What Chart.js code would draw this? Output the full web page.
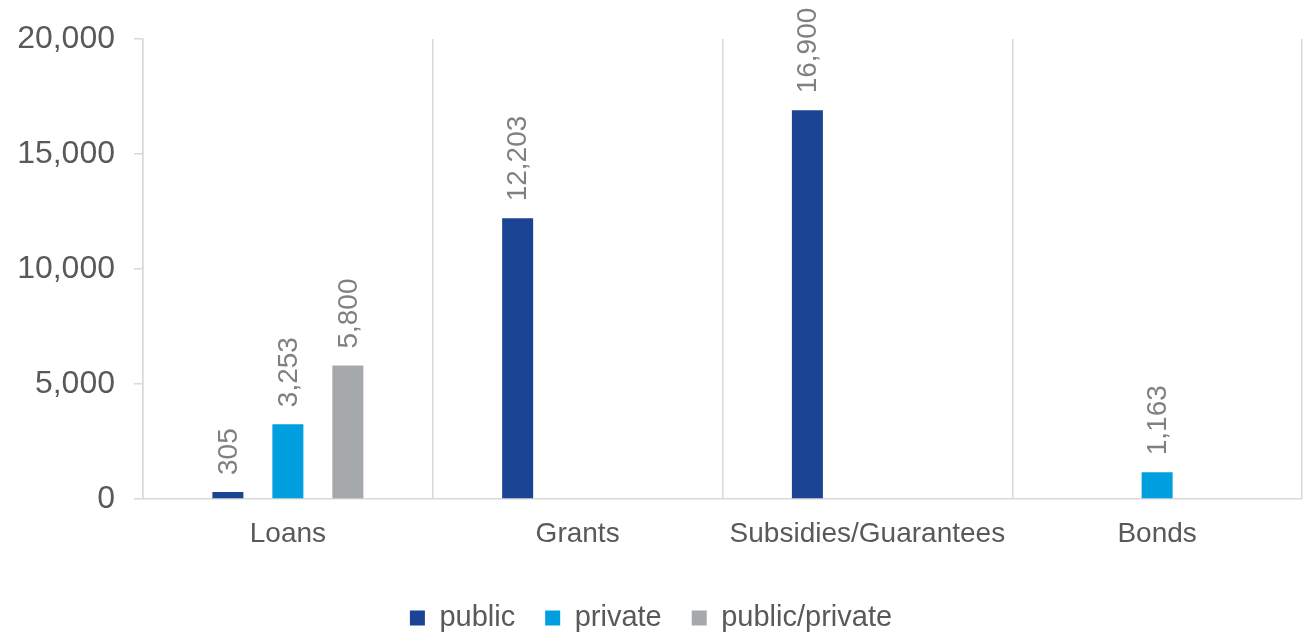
<!DOCTYPE html>
<html lang="en">
<head>
<meta charset="utf-8">
<title>Financing by instrument</title>
<script src="https://cdn.jsdelivr.net/npm/chart.js@4.4.1/dist/chart.umd.min.js"></script>
<style>
  html, body { margin: 0; padding: 0; background: #fff; }
  #wrap { width: 1316px; height: 635px; }
</style>
</head>
<body>
<div id="wrap"><canvas id="myChart" width="1316" height="635"></canvas></div>
<script>
// data
var categories = ['Loans', 'Grants', 'Subsidies/Guarantees', 'Bonds'];
var publicVals = [305, 12203, 16900, null];
var privateVals = [3253, null, null, 1163];
var mixedVals = [5800, null, null, null];
var yTicks = [0, 5000, 10000, 15000, 20000];

var FONT = "'Liberation Sans', Arial, sans-serif";
var AXIS_GREY = '#D9D9D9';
var TEXT = '#595959';

function fmt(v) { return Number(v).toLocaleString('en-US'); }

// rotated value labels above each bar
var barLabels = {
  id: 'barLabels',
  afterDatasetsDraw: function(chart) {
    var ctx = chart.ctx;
    ctx.save();
    ctx.font = '28px ' + FONT;
    ctx.fillStyle = '#808080';
    ctx.textAlign = 'left';
    ctx.textBaseline = 'middle';
    chart.data.datasets.forEach(function(ds, i) {
      var meta = chart.getDatasetMeta(i);
      meta.data.forEach(function(bar, j) {
        var v = ds.data[j];
        if (v === null || v === undefined) return;
        ctx.save();
        ctx.translate(bar.x, bar.y - 17);
        ctx.rotate(-Math.PI / 2);
        ctx.fillText(fmt(v), 0, 1);
        ctx.restore();
      });
    });
    ctx.restore();
  }
};

// legend keeps wide gaps between items but sits closer to the bottom
var legendShift = {
  id: 'legendShift',
  beforeInit: function(chart) {
    var fit = chart.legend.fit;
    chart.legend.fit = function() {
      fit.bind(chart.legend)();
      this.height -= 7.5;
    };
  }
};

var ctx = document.getElementById('myChart');
var chart = new Chart(ctx, {
  type: 'bar',
  data: {
    labels: categories,
    datasets: [
      { label: 'public', data: publicVals, backgroundColor: '#1B4494' },
      { label: 'private', data: privateVals, backgroundColor: '#009FDF' },
      { label: 'public/private', data: mixedVals, backgroundColor: '#A5A9AC' }
    ]
  },
  options: {
    responsive: false,
    animation: false,
    devicePixelRatio: 1,
    layout: { padding: { top: 39, right: 14, left: 0, bottom: 0 } },
    datasets: {
      bar: { categoryPercentage: 0.621, barPercentage: 0.517 }
    },
    scales: {
      x: {
        grid: { color: AXIS_GREY, lineWidth: 1.5, drawTicks: false, offset: true },
        border: { color: AXIS_GREY, width: 1.5 },
        ticks: { color: TEXT, font: { family: FONT, size: 28 }, padding: 18 },
        afterFit: function(scale) { scale.height = 74.5; }
      },
      y: {
        min: 0,
        max: 20000,
        afterBuildTicks: function(scale) {
          scale.ticks = yTicks.map(function(v) { return { value: v }; });
        },
        grid: { color: AXIS_GREY, lineWidth: 1.5, drawOnChartArea: false, drawTicks: true, tickLength: 9 },
        border: { color: AXIS_GREY, width: 1.5 },
        ticks: {
          color: TEXT,
          font: { family: FONT, size: 32 },
          padding: 19,
          callback: function(v) { return fmt(v); }
        },
        afterFit: function(scale) { scale.width = 143; }
      }
    },
    plugins: {
      legend: {
        position: 'bottom',
        labels: {
          color: TEXT,
          font: { family: FONT, size: 29 },
          boxWidth: 15,
          boxHeight: 15,
          padding: 30
        }
      },
      tooltip: { enabled: false }
    }
  },
  plugins: [barLabels, legendShift]
});
</script>
</body>
</html>
